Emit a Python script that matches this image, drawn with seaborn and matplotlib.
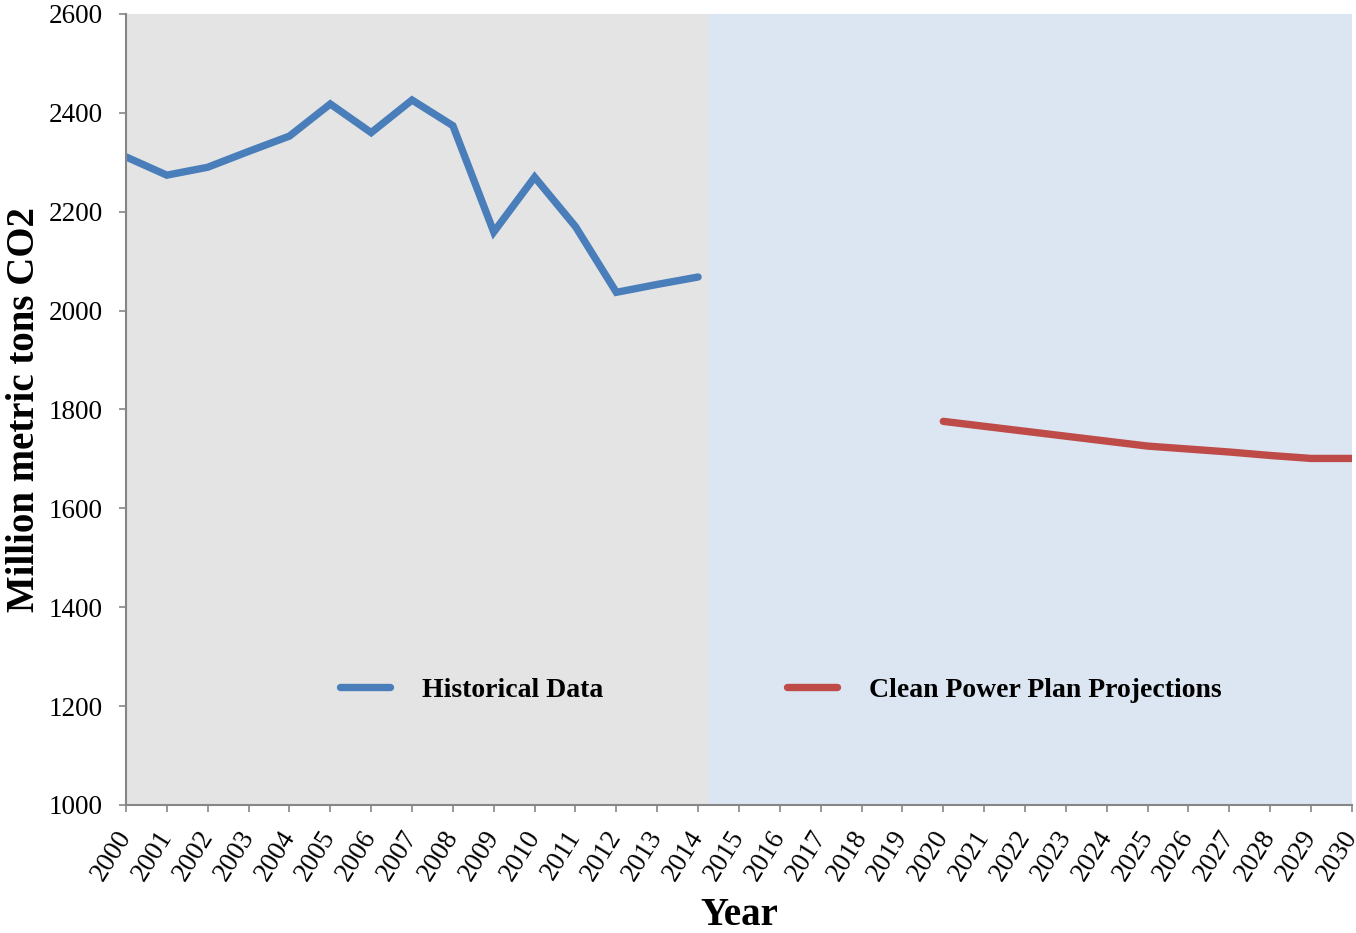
import matplotlib
matplotlib.use("Agg")
import matplotlib.pyplot as plt
import seaborn as sns
import pandas as pd
from matplotlib.lines import Line2D

hist_years = list(range(2000, 2015))
hist_values = [2311, 2274, 2290, 2322, 2353, 2418, 2360, 2426, 2374, 2159, 2270, 2170, 2037, 2053, 2068]
proj_years = list(range(2020, 2031))
proj_values = [1776, 1766, 1756, 1746, 1736, 1726, 1720, 1714, 1707, 1701, 1701]
series_names = ["Historical Data", "Clean Power Plan Projections"]
series_colors = ["#4A7EBB", "#BE4B48"]
x_ticks = list(range(2000, 2031))
y_ticks = [1000, 1200, 1400, 1600, 1800, 2000, 2200, 2400, 2600]
history_end = 2014.24

df = pd.concat([
    pd.DataFrame({"Year": hist_years, "Value": hist_values, "Series": series_names[0]}),
    pd.DataFrame({"Year": proj_years, "Value": proj_values, "Series": series_names[1]}),
])

sns.set_theme(style="white")
plt.rcParams["font.family"] = ["Liberation Serif", "DejaVu Serif"]
plt.rcParams["text.color"] = "black"
plt.rcParams["axes.labelcolor"] = "black"
plt.rcParams["xtick.color"] = "black"
plt.rcParams["ytick.color"] = "black"

fig = plt.figure(figsize=(13.56, 9.33), dpi=100)
ax = fig.add_axes([0.0929, 0.1372, 0.9041, 0.8478])

ax.axvspan(2000, history_end, color="#E4E4E4", zorder=0, lw=0)
ax.axvspan(history_end, 2030, color="#DCE6F2", zorder=0, lw=0)

sns.lineplot(data=df, x="Year", y="Value", hue="Series", palette=dict(zip(series_names, series_colors)),
             linewidth=5.3, ax=ax, legend=False, solid_capstyle="round", solid_joinstyle="miter")

ax.set_xlim(2000, 2030)
ax.set_ylim(1000, 2600)
ax.set_xticks(x_ticks)
ax.set_xticklabels([str(t) for t in x_ticks], rotation=58, ha="right", va="center",
                   rotation_mode="anchor", fontsize=19.5)
ax.set_yticks(y_ticks)
ax.set_yticklabels([str(t) for t in y_ticks], fontsize=19.5)
ax.tick_params(axis="y", direction="out", length=5, width=1.2, color="#868686", pad=11.5, left=True)
ax.tick_params(axis="x", direction="out", length=5, width=1.2, color="#868686", pad=15, bottom=True)
for s in ["top", "right"]:
    ax.spines[s].set_visible(False)
for s in ["left", "bottom"]:
    ax.spines[s].set_color("#868686")
    ax.spines[s].set_linewidth(1.5)

ax.set_xlabel("Year", fontsize=28, fontweight="bold")
ax.xaxis.set_label_coords(0.5, -0.116)
ax.set_ylabel("Million metric tons CO2", fontsize=28, fontweight="bold")
ax.yaxis.set_label_coords(-0.068, 0.5)

handles = [Line2D([0], [0], color=c, lw=5.3, solid_capstyle="round") for c in series_colors]
leg = ax.legend(handles, series_names, loc="center", bbox_to_anchor=(0.534, 0.145), ncol=2, frameon=False,
                prop={"size": 20, "weight": "bold"}, handlelength=1.8, handletextpad=1.15, columnspacing=6.6)

fig.savefig("out.png", dpi=100)
